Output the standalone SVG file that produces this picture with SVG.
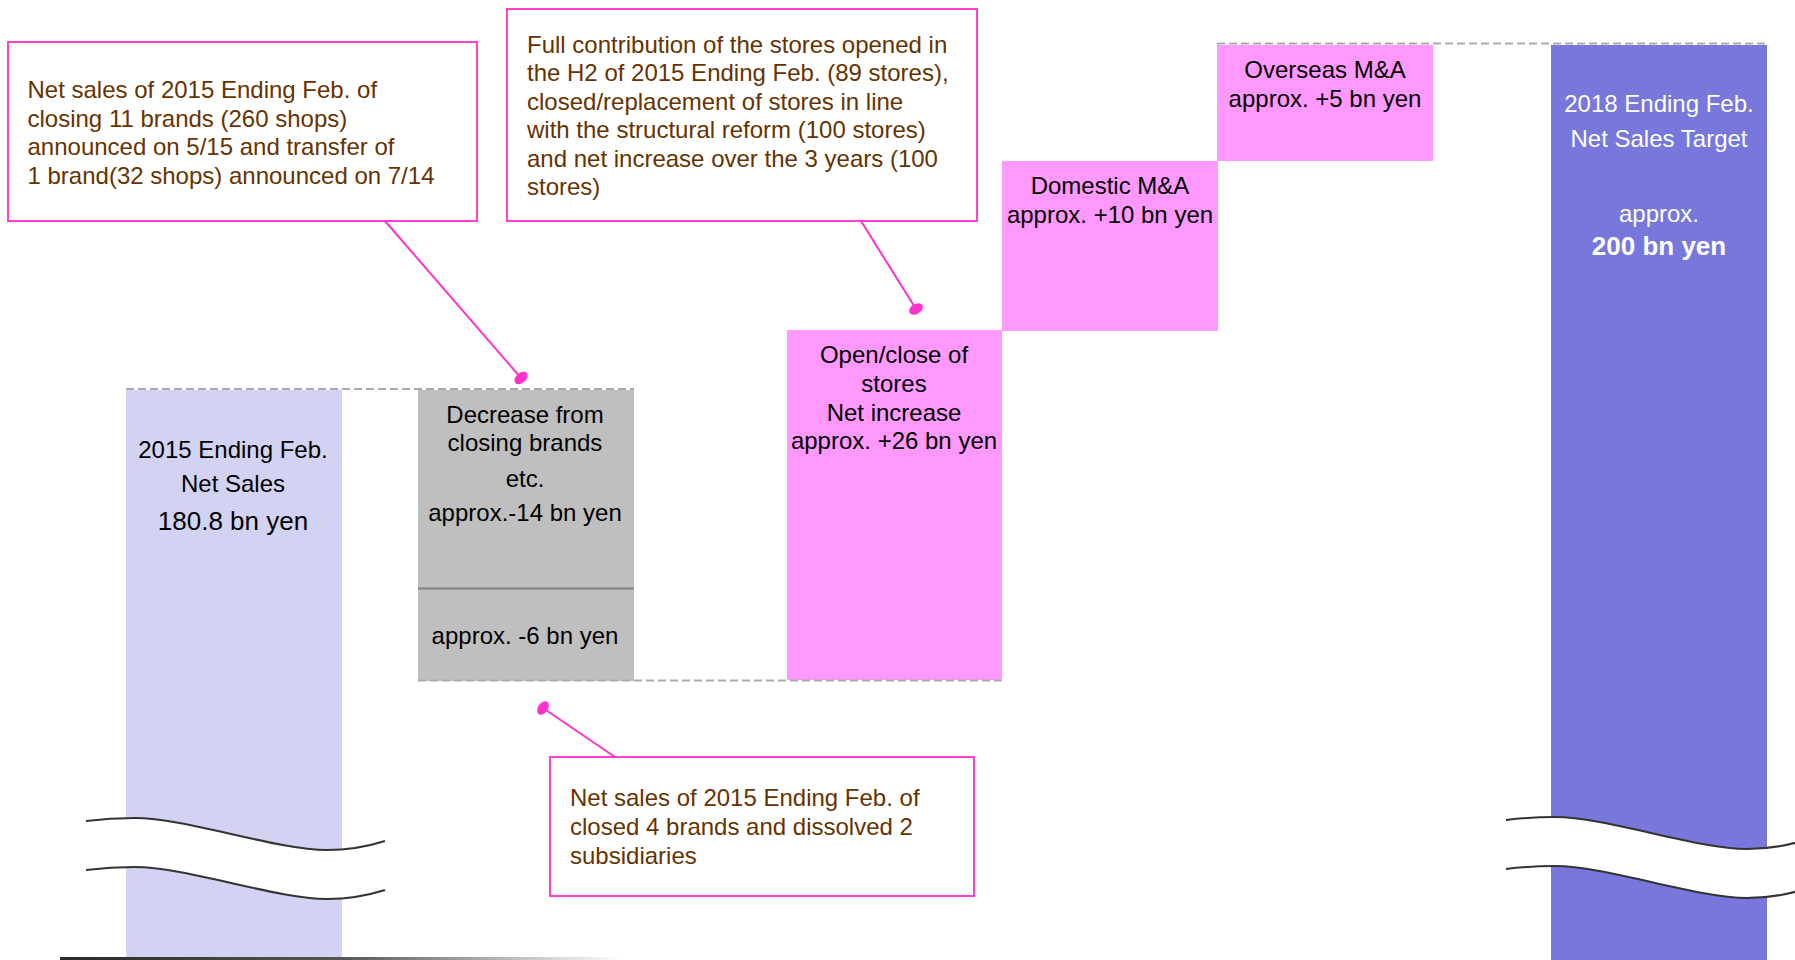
<svg xmlns="http://www.w3.org/2000/svg" width="1795" height="960" viewBox="0 0 1795 960">
<defs>
<style>
.t{font-family:"Liberation Sans",Arial,sans-serif;font-size:24px;fill:#000}
.c{text-anchor:middle}
.note{font-family:"Liberation Sans",Arial,sans-serif;font-size:24px;fill:#663300}
.w{fill:#fff}
.box{fill:#fff;stroke:#FF40D0;stroke-width:2}
.dash{stroke:#AAAAAA;stroke-width:2;stroke-dasharray:8 4;fill:none}
.conn{stroke:#FF33CC;stroke-width:2;fill:none}
.wave{fill:none;stroke:#333;stroke-width:2}
</style>
<marker id="oval" markerUnits="userSpaceOnUse" viewBox="-10 -10 20 20" markerWidth="20" markerHeight="20" refX="0" refY="0" orient="auto">
<ellipse cx="0" cy="0" rx="5" ry="7.5" fill="#FF33CC"/>
</marker>
<linearGradient id="base" gradientUnits="userSpaceOnUse" x1="60" y1="0" x2="622" y2="0">
<stop offset="0" stop-color="#2a2a2a"/>
<stop offset="0.5" stop-color="#555"/>
<stop offset="1" stop-color="#fff"/>
</linearGradient>
</defs>
<rect width="1795" height="960" fill="#fff"/>

<g id="bar-2015">
<rect x="126" y="390" width="216" height="570" fill="#D2D2F2"/>
<text class="t c" x="233" y="458">2015 Ending Feb.</text>
<text class="t c" x="233" y="492">Net Sales</text>
<text class="t c" x="233" y="530" style="font-size:26px">180.8 bn yen</text>
</g>

<g id="decrease">
<rect x="418" y="390" width="216" height="291" fill="#BFBFBF"/>
<line x1="418" y1="588.5" x2="634" y2="588.5" stroke="#808080" stroke-width="2"/>
<text class="t c" x="525" y="423">Decrease from</text>
<text class="t c" x="525" y="451">closing brands</text>
<text class="t c" x="525" y="487">etc.</text>
<text class="t c" x="525" y="521">approx.-14 bn yen</text>
<text class="t c" x="525" y="644">approx. -6 bn yen</text>
</g>

<g id="openclose">
<rect x="787" y="330" width="215" height="350" fill="#FF99FF"/>
<text class="t c" x="894" y="363">Open/close of</text>
<text class="t c" x="894" y="392">stores</text>
<text class="t c" x="894" y="421">Net increase</text>
<text class="t c" x="894" y="449">approx. +26 bn yen</text>
</g>

<g id="domestic">
<rect x="1002" y="161" width="216" height="170" fill="#FF99FF"/>
<text class="t c" x="1110" y="194">Domestic M&amp;A</text>
<text class="t c" x="1110" y="223">approx. +10 bn yen</text>
</g>

<g id="overseas">
<rect x="1217" y="45" width="216" height="116" fill="#FF99FF"/>
<text class="t c" x="1325" y="78">Overseas M&amp;A</text>
<text class="t c" x="1325" y="107">approx. +5 bn yen</text>
</g>

<g id="bar-2018">
<rect x="1551" y="45" width="216" height="915" fill="#7777DC"/>
<text class="t c w" x="1659" y="112">2018 Ending Feb.</text>
<text class="t c w" x="1659" y="147">Net Sales Target</text>
<text class="t c w" x="1659" y="222">approx.</text>
<text class="t c w" x="1659" y="255" style="font-size:26px;font-weight:bold">200 bn yen</text>
</g>

<g id="guides">
<line class="dash" x1="126" y1="389" x2="634" y2="389"/>
<line class="dash" x1="418" y1="680.5" x2="1002" y2="680.5"/>
<line class="dash" x1="1217" y1="43.5" x2="1766" y2="43.5"/>
<rect x="60" y="957" width="562" height="3" fill="url(#base)"/>
</g>

<g id="break-left">
<path d="M86,821 C106,818.5 121,818 135,818 C186,818 276,850 327,850 C346,850 366,847 385,841 L385,890 C366,896 346,899 327,899 C276,899 186,867 135,867 C121,867 106,867.5 86,870 Z" fill="#fff"/>
<path class="wave" d="M86,821 C106,818.5 121,818 135,818 C186,818 276,850 327,850 C346,850 366,847 385,841"/>
<path class="wave" d="M86,870 C106,867.5 121,867 135,867 C186,867 276,899 327,899 C346,899 366,896 385,890"/>
</g>

<g id="break-right" transform="translate(1420,-1)">
<path d="M86,821 C106,818.5 121,818 135,818 C186,818 276,850 327,850 C346,850 366,847 385,841 L385,890 C366,896 346,899 327,899 C276,899 186,867 135,867 C121,867 106,867.5 86,870 Z" fill="#fff"/>
<path class="wave" d="M86,821 C106,818.5 121,818 135,818 C186,818 276,850 327,850 C346,850 366,847 385,841"/>
<path class="wave" d="M86,870 C106,867.5 121,867 135,867 C186,867 276,899 327,899 C346,899 366,896 385,890"/>
</g>

<g id="note-closing">
<rect class="box" x="8" y="42" width="469" height="179"/>
<text class="note" x="27.5" y="98">Net sales of 2015 Ending Feb. of</text>
<text class="note" x="27.5" y="127">closing 11 brands (260 shops)</text>
<text class="note" x="27.5" y="155">announced on 5/15 and transfer of</text>
<text class="note" x="27.5" y="184">1 brand(32 shops) announced on 7/14</text>
</g>

<g id="note-stores">
<rect class="box" x="507" y="9" width="470" height="212"/>
<text class="note" x="527" y="53">Full contribution of the stores opened in</text>
<text class="note" x="527" y="81">the H2 of 2015 Ending Feb. (89 stores),</text>
<text class="note" x="527" y="110">closed/replacement of stores in line</text>
<text class="note" x="527" y="138">with the structural reform (100 stores)</text>
<text class="note" x="527" y="167">and net increase over the 3 years (100</text>
<text class="note" x="527" y="195">stores)</text>
</g>

<g id="note-dissolved">
<rect class="box" x="550" y="757" width="424" height="139"/>
<text class="note" x="570" y="806">Net sales of 2015 Ending Feb. of</text>
<text class="note" x="570" y="835">closed 4 brands and dissolved 2</text>
<text class="note" x="570" y="864">subsidiaries</text>
</g>

<g id="connectors">
<line class="conn" x1="385" y1="221" x2="521" y2="378" marker-end="url(#oval)"/>
<line class="conn" x1="861" y1="221" x2="916" y2="309" marker-end="url(#oval)"/>
<line class="conn" x1="615" y1="757" x2="543" y2="708" marker-end="url(#oval)"/>
</g>
</svg>
